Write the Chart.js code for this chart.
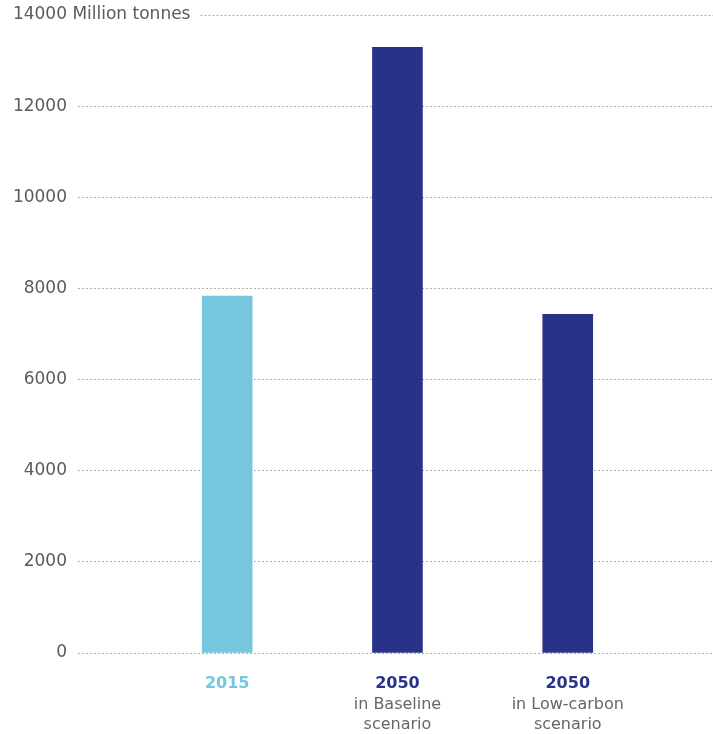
<!DOCTYPE html>
<html>
<head>
<meta charset="utf-8">
<script src="https://cdn.jsdelivr.net/npm/chart.js@4/dist/chart.umd.min.js"></script>
<style>
  html, body { margin: 0; padding: 0; background: #fff; }
  #wrap { width: 713px; height: 734px; }
</style>
</head>
<body>
<div id="wrap"><canvas id="co2Chart"></canvas></div>
<script>
// Data
const years = ["2015", "2050", "2050"];
const subLabels = [[], ["in Baseline", "scenario"], ["in Low-carbon", "scenario"]];
const emissions = [7830, 13290, 7430];
const yTicks = [0, 2000, 4000, 6000, 8000, 10000, 12000, 14000];
const unitLabel = "Million tonnes";

const lightBlue = "#76c6de";
const navy = "#283388";
const barColors = [lightBlue, navy, navy];
const FONT = "'DejaVu Sans', Verdana, sans-serif";

// x labels: bold coloured year, then grey lines underneath
const categoryLabels = {
    id: "categoryLabels",
    afterDraw(chart) {
        const ctx = chart.ctx;
        const x = chart.scales.x;
        const base = chart.scales.y.bottom;
        ctx.save();
        ctx.textAlign = "center";
        ctx.textBaseline = "middle";
        years.forEach((yr, i) => {
            const px = x.getPixelForValue(i + 1);
            ctx.font = "bold 16px " + FONT;
            ctx.fillStyle = barColors[i];
            ctx.fillText(yr, px, base + 31);
            ctx.font = "16px " + FONT;
            ctx.fillStyle = "#666";
            subLabels[i].forEach((line, j) => {
                ctx.fillText(line, px, base + 52 + j * 20);
            });
        });
        ctx.restore();
    }
};

// unit text next to the top tick, dotted line after it
const unitTitle = {
    id: "unitTitle",
    afterDraw(chart) {
        const ctx = chart.ctx;
        const y = chart.scales.y;
        const top = y.getPixelForValue(14000);
        ctx.save();
        ctx.font = "17px " + FONT;
        ctx.fillStyle = "#5a5a5a";
        ctx.textBaseline = "middle";
        const txt = " " + unitLabel;
        ctx.fillText(txt, y.right - 11, top);
        const endText = y.right - 11 + ctx.measureText(txt).width + 10;
        ctx.strokeStyle = "#b0b0b0";
        ctx.lineWidth = 1;
        ctx.setLineDash([2, 2]);
        ctx.beginPath();
        ctx.moveTo(endText, Math.round(top) + 0.5);
        ctx.lineTo(chart.chartArea.right, Math.round(top) + 0.5);
        ctx.stroke();
        ctx.restore();
    }
};

new Chart(document.getElementById("co2Chart"), {
    type: "bar",
    data: {
        datasets: [{
            data: emissions.map((v, i) => ({ x: i + 1, y: v })),
            backgroundColor: barColors,
            barThickness: 50
        }]
    },
    options: {
        responsive: true,
        maintainAspectRatio: false,
        animation: false,
        layout: { padding: { top: 15, right: 0, left: 0, bottom: 0 } },
        plugins: {
            legend: { display: false },
            tooltip: { enabled: false }
        },
        scales: {
            x: {
                type: "linear",
                offset: false,
                min: 0.124,
                max: 3.853,
                ticks: { display: false },
                grid: { display: false, offset: false },
                border: { display: false },
                afterFit(scale) { scale.height = 81; }
            },
            y: {
                min: 0,
                max: 14000,
                afterBuildTicks(scale) {
                    scale.ticks = yTicks.map(v => ({ value: v }));
                },
                ticks: {
                    padding: 11,
                    color: "#5a5a5a",
                    font: { family: FONT, size: 17 },
                    callback: v => String(v)
                },
                grid: {
                    drawTicks: false,
                    color: ctx => ctx.tick && ctx.tick.value === 14000 ? "rgba(0,0,0,0)" : "#b0b0b0",
                    lineWidth: 1
                },
                border: { display: false, dash: [2, 2] },
                afterFit(scale) {
                    scale.width = 78;
                    scale.paddingTop = 0;
                    scale.paddingBottom = 0;
                }
            }
        }
    },
    plugins: [categoryLabels, unitTitle]
});
</script>
</body>
</html>
